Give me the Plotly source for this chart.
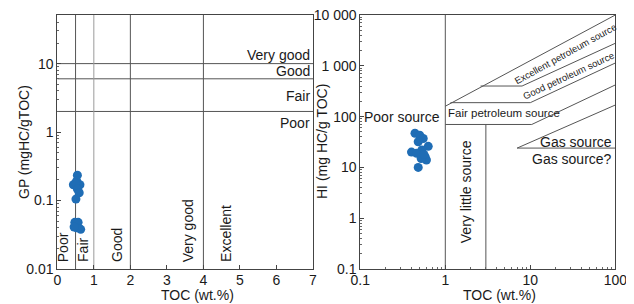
import numpy as np
import plotly.graph_objects as go

# ---------------- data ----------------
# Left panel: TOC vs GP
toc_gp = [0.55, 0.53, 0.44, 0.62, 0.50, 0.55, 0.60, 0.51, 0.48, 0.57, 0.53, 0.64, 0.46]
gp = [0.235, 0.194, 0.17, 0.17, 0.18, 0.147, 0.13, 0.105, 0.048, 0.048, 0.040, 0.038, 0.041]

# Right panel: TOC vs HI
toc_hi = [0.44, 0.50, 0.55, 0.48, 0.63, 0.53, 0.40, 0.46, 0.58, 0.60, 0.52, 0.48, 0.56]
hi = [47, 43, 37, 32, 26, 22, 20, 19, 16, 14, 15, 10, 18]

# Left panel class boundaries
gp_limits = [10, 6, 2]                       # Very good / Good / Fair / Poor
gp_labels = ["Very good", "Good", "Fair", "Poor"]
gp_label_pos = [13.5, 7.9, 3.35, 1.37]
toc_limits = [0.5, 1, 2, 4]
toc_labels = ["Poor", "Fair", "Good", "Very good", "Excellent"]
toc_label_pos = [0.16, 0.70, 1.63, 3.57, 4.6]

# Right panel boundaries (TOC, HI polylines)
hi_lines = [
    ([1, 100], [160, 10000]),
    ([2.6, 8, 100], [400, 400, 2775]),
    ([1.15, 10, 100], [188, 188, 1135]),
    ([1, 10.4, 100], [70, 70, 420]),
    ([100, 7, 100], [24, 24, 169]),
    ([1, 1], [0.1, 10000]),
    ([3, 3], [0.1, 70]),
]

left_xticks = [0, 1, 2, 3, 4, 5, 6, 7]
left_yticks = [0.01, 0.1, 1, 10]
left_yticktext = ["0.01", "0.1", "1", "10"]
right_xticks = [0.1, 1, 10, 100]
right_xticktext = ["0.1", "1", "10", "100"]
right_yticks = [0.1, 1, 10, 100, 1000, 10000]
right_yticktext = ["0.1", "1", "10", "100", "1 000", "10 000"]

# ---------------- figure ----------------
# page body has an 8px margin, so the figure is drawn 8px in from the window edge
OFF = 8
W, H = 634 - OFF, 304 - OFF
LC = "#555555"
BLUE = "#1f6db5"
FONT = "Liberation Sans, Arial, sans-serif"
TXT = "#1a1a1a"

fig = go.Figure()

# left boundary lines
for g in gp_limits:
    fig.add_trace(go.Scatter(x=[0, 7], y=[g, g], mode="lines",
                             line=dict(color=LC, width=1), xaxis="x", yaxis="y",
                             hoverinfo="skip", showlegend=False))
for t in toc_limits:
    col = "#9a9a9a" if t == 1 else LC
    fig.add_trace(go.Scatter(x=[t, t], y=[0.01, 60], mode="lines",
                             line=dict(color=col, width=1), xaxis="x", yaxis="y",
                             hoverinfo="skip", showlegend=False))

fig.add_trace(go.Scatter(x=toc_gp, y=gp, mode="markers",
                         marker=dict(color=BLUE, size=9), xaxis="x", yaxis="y",
                         showlegend=False))

# right boundary lines
for xs, ys in hi_lines:
    fig.add_trace(go.Scatter(x=xs, y=ys, mode="lines",
                             line=dict(color=LC, width=1), xaxis="x2", yaxis="y2",
                             hoverinfo="skip", showlegend=False))

fig.add_trace(go.Scatter(x=toc_hi, y=hi, mode="markers",
                         marker=dict(color=BLUE, size=9), xaxis="x2", yaxis="y2",
                         showlegend=False))


def px_x(p):
    return (p - OFF) / W


def px_y(p):
    return (H - (p - OFF)) / H


ydom = [px_y(269), px_y(15)]
xdom1 = [px_x(57.3), px_x(313)]
xdom2 = [px_x(360.3), px_x(615.3)]

axis_common = dict(showline=True, linecolor="#444444", linewidth=1, mirror=True,
                   showgrid=False, zeroline=False, ticks="inside", ticklen=4,
                   tickcolor="#444444", automargin=False, ticklabeloverflow="allow",
                   tickfont=dict(family=FONT, size=14, color=TXT))

minor_log = dict(ticks="inside", ticklen=2, tickcolor="#666666", showgrid=False)


def minors(lo, hi_):
    vals = []
    for d in range(lo, hi_):
        for m in range(2, 10):
            vals.append(m * 10 ** d)
    return vals


fig.update_layout(
    width=W, height=H,
    margin=dict(l=0, r=0, t=0, b=0),
    paper_bgcolor="white", plot_bgcolor="white",
    font=dict(family=FONT, color=TXT),
    xaxis=dict(domain=xdom1, range=[0, 7], tickvals=left_xticks,
               ticklabelstandoff=-2, **axis_common),
    yaxis=dict(domain=ydom, type="log", range=[-2, 1.71], tickvals=left_yticks,
               ticktext=left_yticktext, anchor="x",
               minor=dict(tickvals=minors(-2, 2), **minor_log), **axis_common),
    xaxis2=dict(domain=xdom2, type="log", range=[-1, 2], tickvals=right_xticks,
                ticktext=right_xticktext, anchor="y2", ticklabelstandoff=-2,
                minor=dict(tickvals=minors(-1, 2), **minor_log), **axis_common),
    yaxis2=dict(domain=ydom, type="log", range=[-1, 4], tickvals=right_yticks,
                ticktext=right_yticktext, anchor="x2",
                minor=dict(tickvals=minors(-1, 4), **minor_log), **axis_common),
)

# axis titles as paper annotations (positions in window pixels)
title_font = dict(family=FONT, size=14, color=TXT)
for tx, ty, txt, ang in [(197, 295, "TOC (wt.%)", 0), (499, 295, "TOC (wt.%)", 0),
                         (24, 142, "GP (mgHC/gTOC)", -90),
                         (322, 142, "HI (mg HC/g TOC)", -90)]:
    fig.add_annotation(x=px_x(tx), y=px_y(ty), xref="paper", yref="paper",
                       text=txt, showarrow=False, textangle=ang,
                       xanchor="center", yanchor="middle", font=title_font)

ann_font = dict(family=FONT, size=14, color=TXT)
# left horizontal class labels
for lab, pos in zip(gp_labels, gp_label_pos):
    fig.add_annotation(x=6.97, y=np.log10(pos), xref="x", yref="y", text=lab,
                       showarrow=False, xanchor="right", yanchor="middle", font=ann_font)
# left vertical class labels
for lab, pos in zip(toc_labels, toc_label_pos):
    fig.add_annotation(x=pos, y=np.log10(0.0118), xref="x", yref="y", text=lab,
                       showarrow=False, textangle=-90, xanchor="center",
                       yanchor="bottom", font=ann_font)

# right panel labels
fig.add_annotation(x=np.log10(0.31), y=np.log10(98), xref="x2", yref="y2",
                   text="Poor source", showarrow=False, xanchor="center",
                   yanchor="middle", font=dict(family=FONT, size=14, color=TXT))
fig.add_annotation(x=np.log10(1.03), y=np.log10(116), xref="x2", yref="y2",
                   text="Fair petroleum source", showarrow=False, xanchor="left",
                   yanchor="middle", font=dict(family=FONT, size=11.5, color=TXT))
fig.add_annotation(x=np.log10(1.75), y=np.log10(0.3), xref="x2", yref="y2",
                   text="Very little source", showarrow=False, textangle=-90,
                   xanchor="center", yanchor="bottom",
                   font=dict(family=FONT, size=14, color=TXT))
fig.add_annotation(x=np.log10(96), y=np.log10(32), xref="x2", yref="y2",
                   text="Gas source", showarrow=False, xanchor="right",
                   yanchor="middle", font=dict(family=FONT, size=14, color=TXT))
fig.add_annotation(x=np.log10(96), y=np.log10(14.5), xref="x2", yref="y2",
                   text="Gas source?", showarrow=False, xanchor="right",
                   yanchor="middle", font=dict(family=FONT, size=14, color=TXT))
fig.add_annotation(x=np.log10(26.2), y=np.log10(1760), xref="x2", yref="y2",
                   text="Excellent petroleum source", showarrow=False, textangle=-29,
                   xanchor="center", yanchor="middle",
                   font=dict(family=FONT, size=9.5, color=TXT))
fig.add_annotation(x=np.log10(28.3), y=np.log10(636), xref="x2", yref="y2",
                   text="Good petroleum source", showarrow=False, textangle=-25,
                   xanchor="center", yanchor="middle",
                   font=dict(family=FONT, size=9.5, color=TXT))

fig.write_html("out.html")
